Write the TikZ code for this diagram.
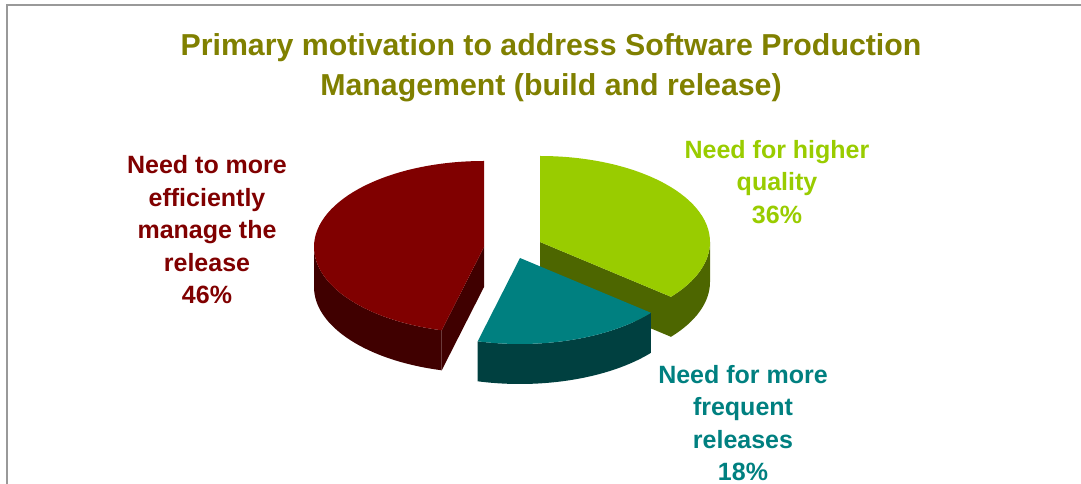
\documentclass[tikz,border=0pt]{standalone}
\usepackage{fontspec}
\setmainfont{Liberation Sans}
\usepackage{xcolor}
\usetikzlibrary{positioning}
\definecolor{titleolive}{HTML}{808000}
\definecolor{releasetop}{HTML}{800000}
\definecolor{releaseside}{HTML}{400000}
\definecolor{qualitytop}{HTML}{99CC00}
\definecolor{qualityside}{HTML}{4D6600}
\definecolor{frequenttop}{HTML}{008080}
\definecolor{frequentside}{HTML}{004040}

\begin{document}
\begin{tikzpicture}[x=1pt, y=1pt,
    chartframe/.style={draw=black!40, line width=2pt},
    heading/.style={align=center, inner sep=0pt, text=titleolive, font=\bfseries\fontsize{30.3}{40}\selectfont},
    pielabel/.style={align=center, inner sep=0pt, font=\bfseries\fontsize{25}{32.5}\selectfont}]
    \useasboundingbox (0,0) rectangle (1081,484);
    \draw[chartframe] (7,0) -- (7,479) -- (1081,479);
    \node[heading] (title) at (551,416) {Primary motivation to address Software Production\\Management (build and release)};
    \begin{scope}[shift={(484,237)}, x radius=170pt, y radius=86pt]
        \fill[releaseside] (180:170pt and 86pt) arc[start angle=180, end angle=255.6] -- ++(0,-40) arc[start angle=255.6, end angle=180] -- cycle;
        \fill[releaseside] (0,0) -- (255.6:170pt and 86pt) -- ++(0,-40) -- (0,-40) -- cycle;
        \fill[releasetop] (0,0) -- (90:170pt and 86pt) arc[start angle=90, end angle=255.6] -- cycle;
    \end{scope}
    \begin{scope}[shift={(540,242)}, x radius=170pt, y radius=86pt]
        \fill[qualityside] (0:170pt and 86pt) arc[start angle=0, end angle=-39.6] -- ++(0,-40) arc[start angle=-39.6, end angle=0] -- cycle;
        \fill[qualityside] (0,0) -- (-39.6:170pt and 86pt) -- ++(0,-40) -- (0,-40) -- cycle;
        \fill[qualitytop] (0,0) -- (90:170pt and 86pt) arc[start angle=90, end angle=-39.6] -- cycle;
    \end{scope}
    \begin{scope}[shift={(520,226)}, x radius=170pt, y radius=86pt]
        \fill[frequentside] (-39.6:170pt and 86pt) arc[start angle=-39.6, end angle=-104.4] -- ++(0,-40) arc[start angle=-104.4, end angle=-39.6] -- cycle;
        \fill[frequenttop] (0,0) -- (-39.6:170pt and 86pt) arc[start angle=-39.6, end angle=-104.4] -- cycle;
    \end{scope}
    \node[pielabel, text=releasetop] (release) at (207,254) {Need to more\\efficiently\\manage the\\release\\46\%};
    \node[pielabel, text=qualitytop] (quality) at (777,302) {Need for higher\\quality\\36\%};
    \node[pielabel, text=frequenttop] (frequent) at (743,61) {Need for more\\frequent\\releases\\18\%};
\end{tikzpicture}
\end{document}
